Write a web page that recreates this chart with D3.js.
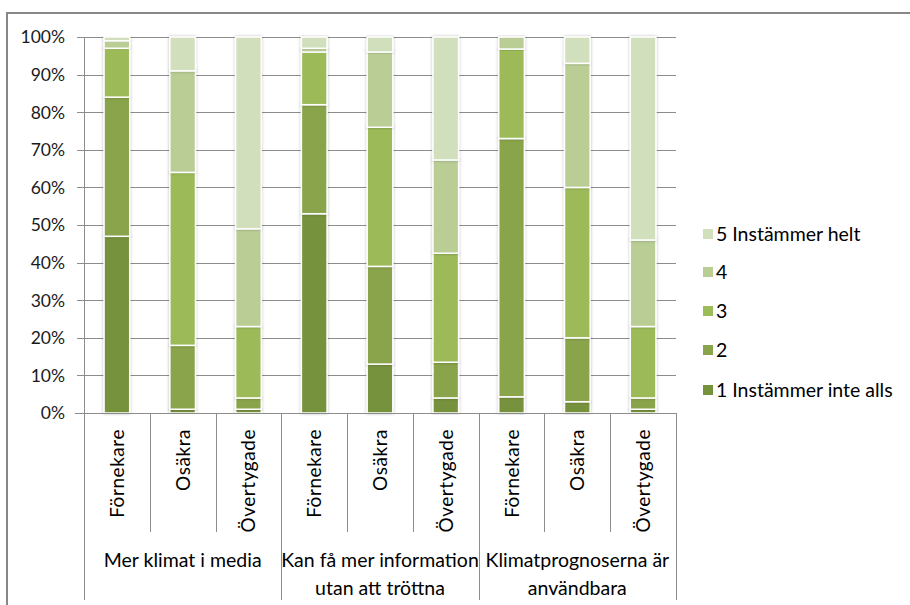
<!DOCTYPE html>
<html><head><meta charset="utf-8">
<script src="https://cdn.jsdelivr.net/npm/d3@7"></script>
<style>
body{margin:0;background:#fff;}
svg{display:block;font-family:Lato,"Open Sans",sans-serif;}
</style></head>
<body>
<svg id="c" width="910" height="605"></svg>
<script>
const groups = [["Mer klimat i media"], ["Kan få mer information","utan att tröttna"], ["Klimatprognoserna är","användbara"]];
const subgroups = ["Förnekare","Osäkra","Övertygade"];
const seriesNames = ["1 Instämmer inte alls","2","3","4","5 Instämmer helt"];
const seriesColors = ["#77923D","#8AA44C","#9CBB59","#B9CD95","#D1DFBC"];
const s1 = [47, 1, 1, 53, 13, 4, 4.3, 3, 1];
const s2 = [37, 17, 3, 29, 26, 9.5, 68.7, 17, 3];
const s3 = [13, 46, 19, 14, 37, 29, 23.8, 40, 19];
const s4 = [2, 27, 26, 1, 20, 24.8, 3.2, 33, 23];
const s5 = [1, 9, 51, 3, 4, 32.7, 0, 7, 54];
const yTicks = [0,10,20,30,40,50,60,70,80,90,100];

(function(){
const seriesVals = [s1,s2,s3,s4,s5];
const cats = [];
groups.forEach((g,gi)=>subgroups.forEach((s,si)=>cats.push({id:gi*3+si, g:gi, name:s})));
const rows = cats.map((c,i)=>{const r={id:c.id}; seriesNames.forEach((n,k)=>r[n]=seriesVals[k][i]); return r;});

const svg = d3.select("#c");
const pL=84, pR=676, pT=37, pB=413;
const x = d3.scaleBand().domain(cats.map(c=>c.id)).range([pL,pR]).paddingInner(0.61).paddingOuter(0.305);
const y = d3.scaleLinear().domain([0,100]).range([pB,pT]);

svg.append("path").attr("d","M7,605 V13 H910").attr("fill","none").attr("stroke","#878787").attr("stroke-width",2);

const defs = svg.append("defs");
const f = defs.append("filter").attr("id","sh").attr("x","-40%").attr("y","-10%").attr("width","180%").attr("height","120%");
f.append("feDropShadow").attr("dx",0).attr("dy",0).attr("stdDeviation",1.6).attr("flood-color","#000").attr("flood-opacity",0.28);

svg.append("g").selectAll("line").data(yTicks).join("line")
  .attr("x1",77).attr("x2",pR).attr("y1",d=>Math.round(y(d))+0.5).attr("y2",d=>Math.round(y(d))+0.5)
  .attr("stroke","#8c8c8c").attr("stroke-width",1);
svg.append("line").attr("x1",pL+0.5).attr("x2",pL+0.5).attr("y1",pT).attr("y2",pB).attr("stroke","#8c8c8c");

svg.append("g").selectAll("text").data(yTicks).join("text")
  .attr("x",65).attr("y",d=>y(d)).attr("dy","0.36em").attr("text-anchor","end")
  .attr("font-size",17.5).attr("fill","#1a1a1a").text(d=>d+"%");

const stacked = d3.stack().keys(seriesNames)(rows);
const gBars = svg.append("g");
stacked.forEach((layer,k)=>{
  gBars.append("g").attr("fill",seriesColors[k]).selectAll("rect").data(layer.filter(d=>d[1]-d[0]>0)).join("rect")
    .attr("x",d=>x(d.data.id)).attr("width",x.bandwidth())
    .attr("y",d=>y(d[1])).attr("height",d=>y(d[0])-y(d[1]))
    .attr("stroke","#fff").attr("stroke-width",1.5).attr("filter","url(#sh)");
});

svg.append("line").attr("x1",75).attr("x2",pR).attr("y1",pB+0.5).attr("y2",pB+0.5).attr("stroke","#8c8c8c");
const step = x.step();
const seps = d3.range(10).map(i=>pL+i*step);
svg.append("g").selectAll("line").data(seps).join("line")
  .attr("x1",d=>Math.round(d)+0.5).attr("x2",d=>Math.round(d)+0.5)
  .attr("y1",pB).attr("y2",(d,i)=>i%3===0?600:532)
  .attr("stroke","#8c8c8c");

svg.append("g").selectAll("text").data(cats).join("text")
  .attr("transform",d=>`translate(${x(d.id)+x.bandwidth()/2+7},429) rotate(-90)`)
  .attr("text-anchor","end").attr("font-size",19).attr("fill","#000")
  .attr("letter-spacing",0.55)
  .text(d=>d.name);

groups.forEach((g,gi)=>{
  const cx = pL + (gi*3+1.5)*step;
  const t = svg.append("text").attr("text-anchor","middle").attr("font-size",19.5).attr("fill","#000");
  g.forEach((line,li)=>t.append("tspan").attr("x",cx).attr("y",567+li*28).text(line));
});

const legY = [390,350,311,272,234];
const lg = svg.append("g");
seriesNames.forEach((n,k)=>{
  lg.append("rect").attr("x",703).attr("y",legY[k]-5).attr("width",10).attr("height",10).attr("fill",seriesColors[k]);
  lg.append("text").attr("x",716).attr("y",legY[k]).attr("dy","0.36em").attr("font-size",19.5).attr("fill","#000").text(n);
});
})();
</script>
</body></html>
